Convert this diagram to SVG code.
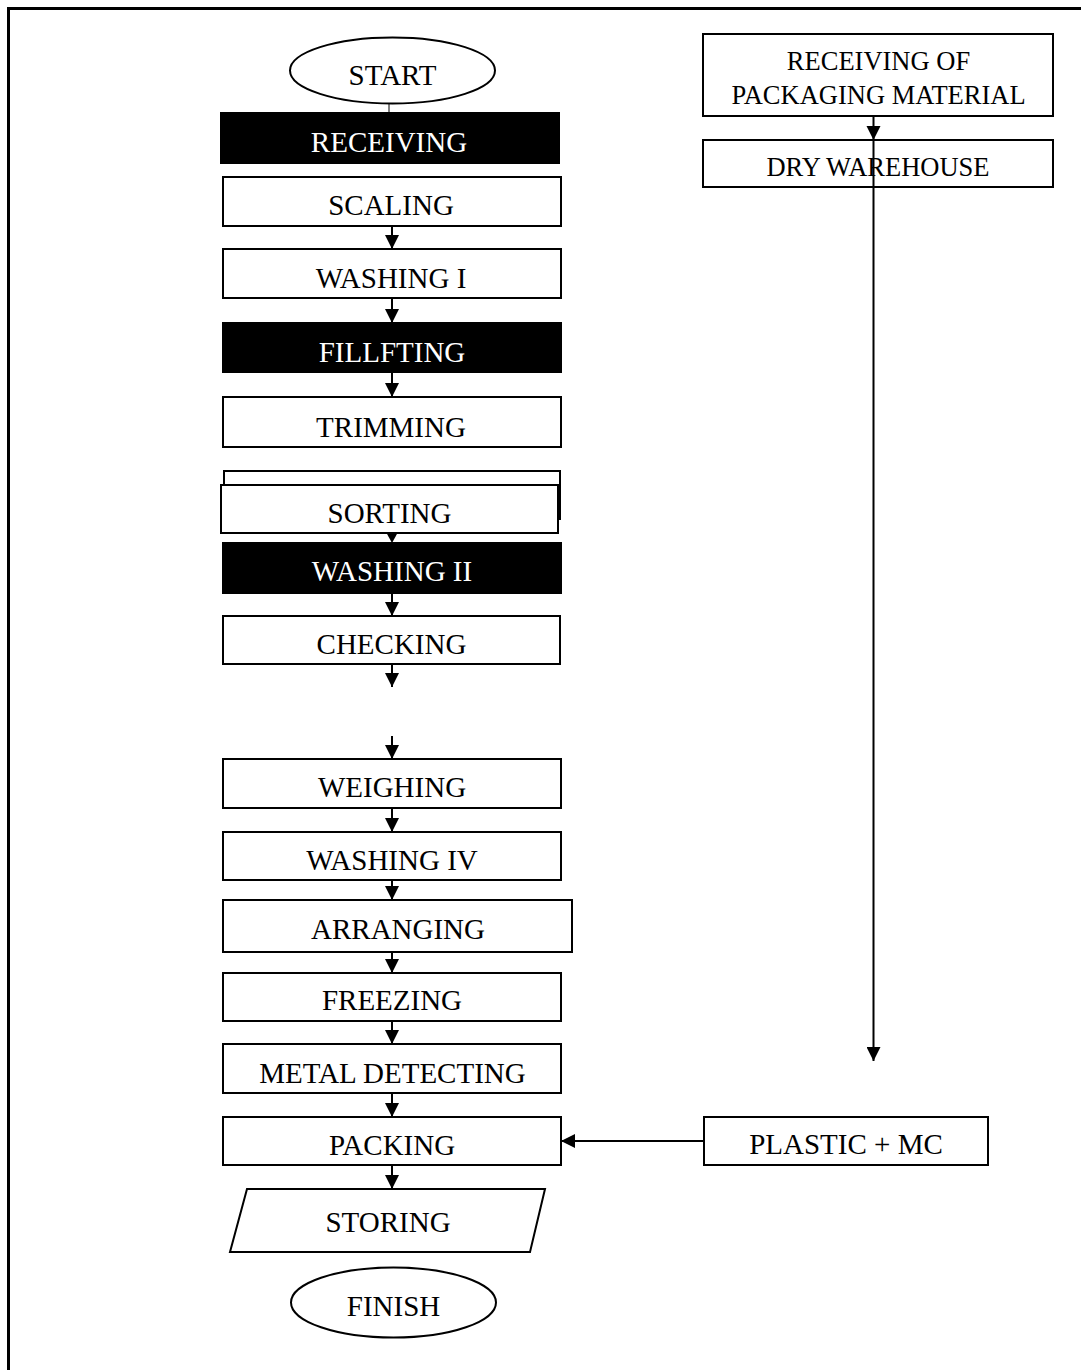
<svg xmlns="http://www.w3.org/2000/svg" width="1081" height="1370" viewBox="0 0 1081 1370">
<defs>
<style>
.box{fill:#fff;stroke:#000;stroke-width:2}
.dark{fill:#000;stroke:#000;stroke-width:2}
.t{font-family:"Liberation Serif","Times New Roman",serif;font-size:29px;fill:#000;text-anchor:middle}
.tw{font-family:"Liberation Serif","Times New Roman",serif;font-size:29px;fill:#fff;text-anchor:middle}
.ts{font-family:"Liberation Serif","Times New Roman",serif;font-size:26.5px;fill:#000;text-anchor:middle}
.c{fill:none;stroke:#000;stroke-width:2}
.head{fill:#000;stroke:none}
</style>
<marker id="arr" markerUnits="userSpaceOnUse" markerWidth="14" markerHeight="14" refX="14" refY="7" orient="auto" viewBox="0 0 14 14">
<path d="M0,0 L14,7 L0,14 z" fill="#000"/>
</marker>
</defs>
<rect width="1081" height="1370" fill="#fff"/>
<path d="M8.5,1370 V8.5 H1081" fill="none" stroke="#000" stroke-width="3"/>

<g id="start"><ellipse class="box" cx="392.5" cy="70.5" rx="102.5" ry="33"/><text class="t" x="392.5" y="85">START</text></g>
<g id="receiving"><rect class="dark" x="221" y="113" width="338" height="50"/><text class="tw" x="389" y="152">RECEIVING</text></g>
<g id="scaling"><rect class="box" x="223" y="177" width="338" height="49"/><text class="t" x="391" y="215">SCALING</text></g>
<g id="washing1"><rect class="box" x="223" y="249" width="338" height="49"/><text class="t" x="391" y="288">WASHING I</text></g>
<g id="fillfting"><rect class="dark" x="223" y="323" width="338" height="49"/><text class="tw" x="392" y="362">FILLFTING</text></g>
<g id="trimming"><rect class="box" x="223" y="397" width="338" height="50"/><text class="t" x="391" y="437">TRIMMING</text></g>
<g id="sorting-back"><rect class="box" x="224" y="471" width="336" height="48"/></g>
<g id="sorting"><rect class="box" x="221" y="485" width="337" height="48"/><text class="t" x="389.5" y="523">SORTING</text></g>
<g id="washing2"><rect class="dark" x="223" y="543" width="338" height="50"/><text class="tw" x="392" y="581">WASHING II</text></g>
<g id="checking"><rect class="box" x="223" y="616" width="337" height="48"/><text class="t" x="391.5" y="654">CHECKING</text></g>
<g id="weighing"><rect class="box" x="223" y="759" width="338" height="49"/><text class="t" x="392" y="797">WEIGHING</text></g>
<g id="washing4"><rect class="box" x="223" y="832" width="338" height="48"/><text class="t" x="392" y="870">WASHING IV</text></g>
<g id="arranging"><rect class="box" x="223" y="900" width="349" height="52"/><text class="t" x="398" y="939">ARRANGING</text></g>
<g id="freezing"><rect class="box" x="223" y="973" width="338" height="48"/><text class="t" x="392" y="1010">FREEZING</text></g>
<g id="metal"><rect class="box" x="223" y="1044" width="338" height="49"/><text class="t" x="392.5" y="1083">METAL DETECTING</text></g>
<g id="packing"><rect class="box" x="223" y="1117" width="338" height="48"/><text class="t" x="392" y="1155">PACKING</text></g>
<g id="storing"><polygon class="box" points="247,1189 545,1189 530,1252 230,1252"/><text class="t" x="388" y="1232">STORING</text></g>
<g id="finish"><ellipse class="box" cx="393.5" cy="1302.5" rx="102.5" ry="35"/><text class="t" x="393.5" y="1316">FINISH</text></g>

<g id="recv-pack"><rect class="box" x="703" y="34" width="350" height="82"/><text class="ts" x="878.5" y="70">RECEIVING OF</text><text class="ts" x="878.5" y="104">PACKAGING MATERIAL</text></g>
<g id="dry"><rect class="box" x="703" y="140" width="350" height="47"/><text class="ts" x="878" y="176">DRY WAREHOUSE</text></g>
<g id="plastic"><rect class="box" x="704" y="1117" width="284" height="48"/><text class="t" x="846" y="1154">PLASTIC + MC</text></g>

<g id="connectors">
<line x1="389" y1="103" x2="389" y2="113" stroke="#000" stroke-width="1"/>
<line class="c" x1="392" y1="226" x2="392" y2="249" marker-end="url(#arr)"/>
<line class="c" x1="392" y1="298" x2="392" y2="323" marker-end="url(#arr)"/>
<line class="c" x1="392" y1="372" x2="392" y2="397" marker-end="url(#arr)"/>
<polygon class="head" points="386.5,533 397.5,533 392,543"/>
<line class="c" x1="392" y1="593" x2="392" y2="616" marker-end="url(#arr)"/>
<line class="c" x1="392" y1="664" x2="392" y2="687" marker-end="url(#arr)"/>
<line class="c" x1="392" y1="736" x2="392" y2="759" marker-end="url(#arr)"/>
<line class="c" x1="392" y1="808" x2="392" y2="832" marker-end="url(#arr)"/>
<line class="c" x1="392" y1="880" x2="392" y2="900" marker-end="url(#arr)"/>
<line class="c" x1="392" y1="952" x2="392" y2="973" marker-end="url(#arr)"/>
<line class="c" x1="392" y1="1021" x2="392" y2="1044" marker-end="url(#arr)"/>
<line class="c" x1="392" y1="1093" x2="392" y2="1117" marker-end="url(#arr)"/>
<line class="c" x1="392" y1="1165" x2="392" y2="1189" marker-end="url(#arr)"/>
<line class="c" x1="704" y1="1141" x2="561" y2="1141" marker-end="url(#arr)"/>
<line class="c" x1="873.5" y1="116" x2="873.5" y2="1061" marker-end="url(#arr)"/>
<polygon class="head" points="866.5,126 880.5,126 873.5,140"/>
</g>
</svg>
